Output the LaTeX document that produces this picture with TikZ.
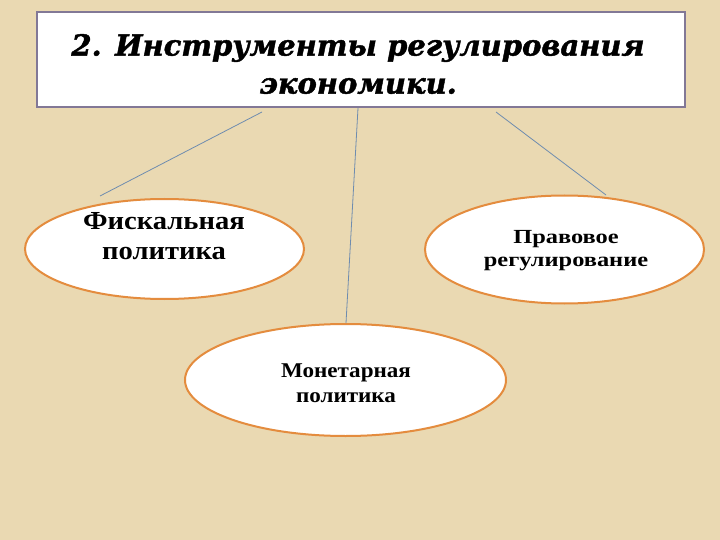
\documentclass[tikz,border=0pt]{standalone}
\usepackage{fontspec}
\setmainfont{Liberation Serif}
\newfontfamily\titlefont[BoldItalicFeatures={FakeBold=1.5}]{DejaVu Serif}
\usetikzlibrary{shapes.geometric}
\definecolor{parch}{RGB}{234,217,178}
\definecolor{boxline}{RGB}{130,120,150}
\definecolor{ovline}{RGB}{228,140,62}
\definecolor{conn}{RGB}{110,140,175}
\tikzset{
  oval/.style={ellipse, draw=ovline, line width=2pt, fill=white, inner sep=0pt},
  ovtext/.style={align=center, inner sep=0pt, font=\bfseries},
  connector/.style={draw=conn, line width=0.8pt}
}
\begin{document}
\begin{tikzpicture}[x=1pt,y=-1pt]
\fill[parch] (0,0) rectangle (720,540);
\useasboundingbox (0,0) rectangle (720,540);
% title box
\node[draw=boxline, line width=1.8pt, fill=white, minimum width=648pt, minimum height=95pt, inner sep=0pt] (title) at (361,59.5) {};
\node[align=center, inner sep=0pt, font=\titlefont\bfseries\itshape\fontsize{29}{38}\selectfont] (titletext) at (358,64) {2. Инструменты регулирования\\экономики.};
% ovals
\node[oval, minimum width=279pt, minimum height=100pt] (fisc) at (164.5,249) {};
\node[oval, minimum width=279pt, minimum height=108pt] (prav) at (564.5,249.5) {};
\node[oval, minimum width=321pt, minimum height=112pt] (mon) at (345.5,380) {};
\node[ovtext, xscale=1.1, font=\bfseries\fontsize{26}{30}\selectfont] (fisct) at (164,236) {Фискальная\\политика};
\node[ovtext, xscale=1.22, font=\bfseries\fontsize{20}{23}\selectfont] (pravt) at (566,251) {Правовое\\регулирование};
\node[ovtext, xscale=1.1, font=\bfseries\fontsize{21}{25}\selectfont] (mont) at (346,383) {Монетарная\\политика};
% connector ends
\coordinate (c1a) at (262,112);
\coordinate (c1b) at (100,196);
\coordinate (c2a) at (358,108);
\coordinate (c2b) at (346,323);
\coordinate (c3a) at (496,112);
\coordinate (c3b) at (606,195);
\draw[connector] (c1a) -- (c1b);
\draw[connector] (c2a) -- (c2b);
\draw[connector] (c3a) -- (c3b);
\end{tikzpicture}
\end{document}
